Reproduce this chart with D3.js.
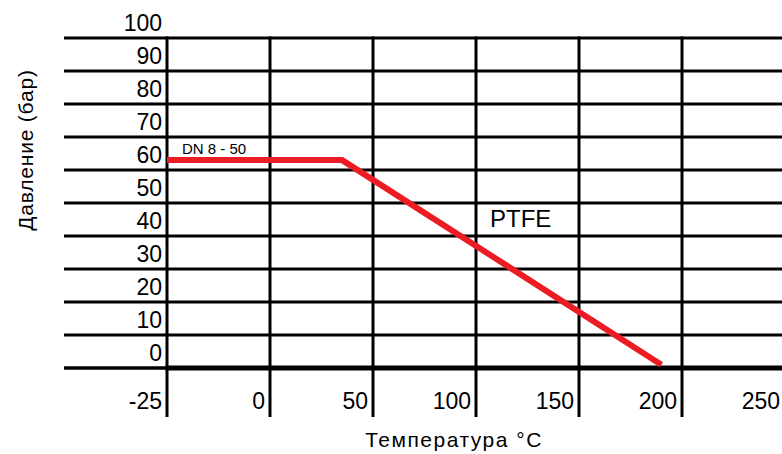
<html>
<head>
<meta charset="utf-8">
<script src="https://d3js.org/d3.v7.min.js"></script>
<style>
body { margin: 0; background: #fff; }
text { font-family: "Liberation Sans", Arial, sans-serif; fill: #000; }
</style>
</head>
<body>
<div id="chart"></div>
<script>
// chart values
var tempTicks = [-25, 0, 50, 100, 150, 200, 250]
var pressTicks = [0, 10, 20, 30, 40, 50, 60, 70, 80, 90, 100]
var curveTemp = [-25, 35, 190]
var curvePress = [63, 63, 1]
var curveName = 'PTFE'
var sizeLabel = 'DN 8 - 50'

var width = 782, height = 454
var colStep = 103, x0 = 167

var svg = d3.select('#chart').append('svg')
    .attr('width', width)
    .attr('height', height)

// columns are evenly spaced even though the temperatures are not
var xs = d3.scaleLinear()
    .domain(tempTicks)
    .range(tempTicks.map(function(d, i) { return x0 + i * colStep }))
var ys = d3.scaleLinear().domain([0, 100]).range([368, 38])

// horizontal grid
svg.append('g').selectAll('line')
    .data(pressTicks.filter(function(d) { return d > 0 }))
    .enter().append('line')
    .attr('x1', 64).attr('x2', width)
    .attr('y1', function(d) { return ys(d) })
    .attr('y2', function(d) { return ys(d) })
    .attr('stroke', '#000').attr('stroke-width', 3)

// base line (thick)
svg.append('line')
    .attr('x1', 64).attr('x2', xs(-25))
    .attr('y1', ys(0)).attr('y2', ys(0))
    .attr('stroke', '#000').attr('stroke-width', 3.5)
svg.append('line')
    .attr('x1', xs(-25)).attr('x2', width)
    .attr('y1', ys(0)).attr('y2', ys(0))
    .attr('stroke', '#000').attr('stroke-width', 5)

// vertical grid
svg.append('g').selectAll('line')
    .data(tempTicks.filter(function(d) { return d < 250 }))
    .enter().append('line')
    .attr('x1', function(d) { return xs(d) })
    .attr('x2', function(d) { return xs(d) })
    .attr('y1', ys(100) - 1.5).attr('y2', 417)
    .attr('stroke', '#000').attr('stroke-width', 3)

// y labels, sitting above their line
svg.append('g').selectAll('text')
    .data(pressTicks)
    .enter().append('text')
    .attr('x', xs(-25) - 5)
    .attr('y', function(d) { return ys(d) - 7 })
    .attr('text-anchor', 'end')
    .style('font-size', '23px')
    .text(function(d) { return d })

// x labels, left of their line
svg.append('g').selectAll('text')
    .data(tempTicks)
    .enter().append('text')
    .attr('x', function(d) { return xs(d) - 5 })
    .attr('y', 409)
    .attr('text-anchor', 'end')
    .style('font-size', '23px')
    .text(function(d) { return d })

// pressure / temperature curve
var pts = curveTemp.map(function(t, i) { return [t, curvePress[i]] })
svg.append('path')
    .datum(pts)
    .attr('d', d3.line()
        .x(function(d) { return xs(d[0]) })
        .y(function(d) { return ys(d[1]) }))
    .attr('fill', 'none')
    .attr('stroke', '#ec1c24')
    .attr('stroke-width', 6)

svg.append('text')
    .attr('x', 182).attr('y', 154)
    .style('font-size', '15px')
    .text(sizeLabel)

svg.append('text')
    .attr('x', 490).attr('y', 227)
    .style('font-size', '24px')
    .text(curveName)

// axis titles
svg.append('text')
    .attr('x', 454).attr('y', 447)
    .attr('text-anchor', 'middle')
    .style('font-size', '21px')
    .style('letter-spacing', '1.5px')
    .text('Температура °C')

svg.append('text')
    .attr('transform', 'translate(33,150) rotate(-90)')
    .attr('text-anchor', 'middle')
    .style('font-size', '21px')
    .style('letter-spacing', '0.8px')
    .text('Давление (бар)')
</script>
</body>
</html>
